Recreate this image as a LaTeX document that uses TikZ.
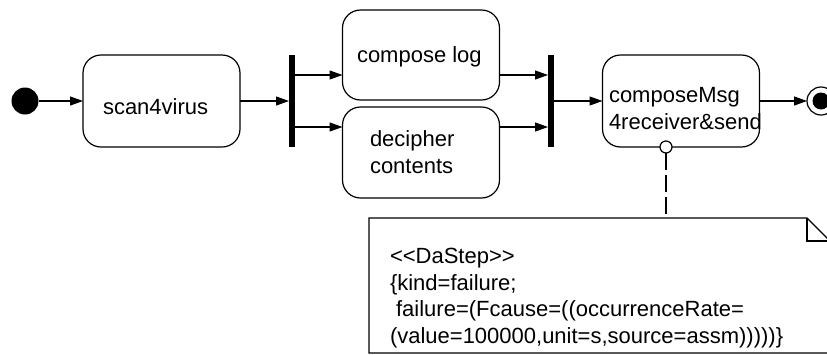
\documentclass[tikz,border=0pt]{standalone}
\usepackage{fontspec}
\setmainfont{Liberation Sans}
\usetikzlibrary{arrows.meta,calc}
\begin{document}
\begin{tikzpicture}[x=1pt,y=-1pt,
  every node/.style={inner sep=0pt,outer sep=0pt},
  ln/.style={line width=1.2pt},
  arr/.style={ln,-{Triangle[length=13pt,width=9pt]}},
  actbox/.style={draw,ln,rounded corners=18pt,minimum width=157pt,minimum height=92pt},
  bar/.style={fill=black,minimum width=6pt,minimum height=92pt},
  txt/.style={anchor=base west,align=left,font=\fontsize{22}{26.5}\selectfont}]
\useasboundingbox (0,0) rectangle (827,354);
\clip (0,0) rectangle (827,354);
% nodes
\node[circle,fill=black,minimum size=27pt] (init) at (25,101) {};
\node[actbox] (scan) at (161.5,101) {};
\node[actbox,minimum height=90pt] (compose) at (421,55) {};
\node[actbox,minimum height=91pt] (decipher) at (421,152.5) {};
\node[bar] (fork) at (292,101) {};
\node[bar] (join) at (551,101) {};
\node[actbox] (cmsg) at (681,101) {};
\node[circle,draw,ln,fill=white,minimum size=28pt] (final) at (821,101) {};
\node[circle,fill=black,minimum size=17pt] (finalin) at (final) {};
\node[circle,draw,ln,fill=white,minimum size=12pt] (tag) at (666,147) {};
% texts
\node[txt] (scanT) at (103,114) {scan4virus};
\node[txt] (composeT) at (357,62) {compose log};
\node[txt] (decipherT) at (370,173) {decipher\\contents};
\node[txt] (cmsgT) at (609,129) {composeMsg\\4receiver\&send};
% note
\coordinate (notetop) at (666,218);
\draw[ln,fill=white] (369,218) -- (807,218) -- (830,241) -- (830,353) -- (369,353) -- cycle;
\draw[ln] (807,218) -- (807,241) -- (830,241);
\node[txt] (noteT) at (390,343) {<{}<DaStep>{}>\\\{kind=failure;\\\ failure=(Fcause=((occurrenceRate=\\(value=100000,unit=s,source=assm)))))\}};
% connectors
\coordinate (c1) at ($(compose.west)+(0,20)$);
\coordinate (c2) at ($(decipher.west)+(0,-25.5)$);
\draw[arr] (init.east) -- (scan.west);
\draw[arr] (scan.east) -- (fork.west);
\draw[arr] (fork.east |- c1) -- (c1);
\draw[arr] (fork.east |- c2) -- (c2);
\draw[arr] (compose.east |- c1) -- (join.west |- c1);
\draw[arr] (decipher.east |- c2) -- (join.west |- c2);
\draw[arr] (join.east) -- (cmsg.west);
\draw[arr] (cmsg.east) -- (final.west);
\draw[ln,dash pattern=on 17pt off 5pt] (tag.south) -- (notetop);
\end{tikzpicture}
\end{document}
